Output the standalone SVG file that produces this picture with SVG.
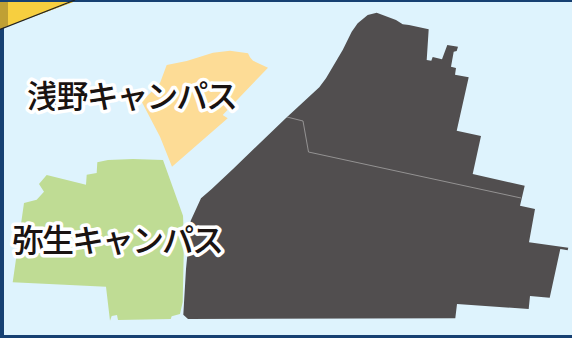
<svg xmlns="http://www.w3.org/2000/svg" width="572" height="338" viewBox="0 0 572 338">
<style>
.l{font-family:"Noto Sans CJK JP","Liberation Sans",sans-serif;font-size:32px;font-weight:500;fill:#1a1311;stroke:#fff;stroke-width:7px;stroke-linejoin:round;paint-order:stroke}
</style>
<rect width="572" height="338" fill="#164072"/>
<rect x="4" y="2" width="568" height="333" fill="#def3fd"/>
<g id="corner">
<path d="M0 2H73L0 29Z" fill="#c0a034"/>
<path d="M8 2H73L8 26Z" fill="#f7cf3f"/>
<path d="M0 29.500L75 0" stroke="#222" stroke-width="1.200" fill="none"/>
</g>
<g id="asano">
<path d="M166.700 65L186.700 61L213 52.700L230 50.700L248 53.300L250 57.300L253 60.700L268 67.700L222.700 115L227.700 118.300L172 166.700L160 136.700L141.700 101.700L160 83Z" fill="#fddc96"/>
</g>
<g id="yayoi">
<path d="M97.300 162.300L108 160L133 159L163 160L183 215.700L184 239L182.700 302L180 314L171.700 316.300L170.700 319L118 320L117 315L111.700 316L110 320.700L106 286.700L12.700 282.300L24 203L36.700 199.700L44 191.700L39 184L46.700 175L86 184.700L86.700 174.700L96.700 173Z" fill="#bfdc94"/>
</g>
<g id="hongo">
<path d="M376.700 12.700L396 20L402.700 24.300L409 25L428.700 29.300L426.700 60L431.300 60.700L432.700 57L442 59.300L447.300 45L458 46.700L456.700 51L453.700 51.700L451 66.700L456 68L455 74.700L468.700 77.300L456.700 130.700L481 136L472.700 174L524.700 185.700L520 205.700L535 209L529 242.300L568.300 247.700L567.700 250.300L560.300 249L549.700 297.700L530 296L528.700 309L457 304L455.300 318.300L188 319L183.300 314.700L186 269L190.700 220.700L201 198.300L211.700 189L233 169L286 118L319.300 87.300L326 78.300L342.700 50L351.700 31.700L357.700 23.300L367.700 15Z" fill="#514e4f"/>
</g>
<g id="connectors">
<path d="M287 117L303 121L308.500 152L521 198" fill="none" stroke="#a5a3a3" stroke-width="0.800"/>
</g>
<g id="label-asano">
<text class="l" x="27" y="108" textLength="211">浅野キャンパス</text>
</g>
<g id="label-yayoi">
<text class="l" x="12" y="252" textLength="212">弥生キャンパス</text>
</g>
</svg>
